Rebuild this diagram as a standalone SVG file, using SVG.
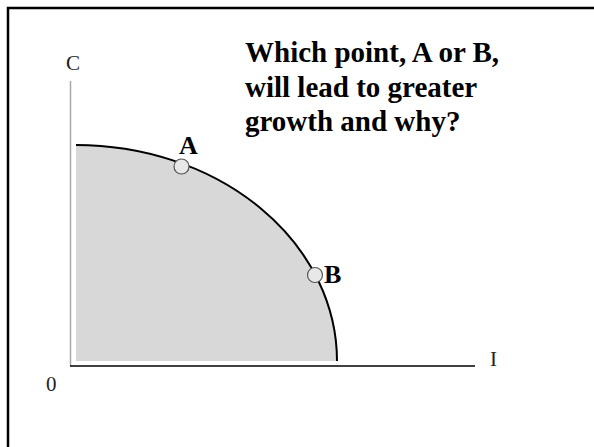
<svg xmlns="http://www.w3.org/2000/svg" width="594" height="447" viewBox="0 0 594 447">
  <style>
    .lbl { font-family: "Liberation Serif", "Times New Roman", serif; fill: #000; }
    .axislbl { font-size: 21px; fill: #222; }
    .pt { font-size: 26px; font-weight: bold; }
    .q { font-size: 29px; font-weight: bold; }
    .dot { fill: #e8e8e8; stroke: #555; stroke-width: 1.2; }
  </style>
  <rect x="0" y="0" width="594" height="447" fill="#fff"/>
  <g id="frame">
    <rect x="8" y="8" width="600" height="460" fill="none" stroke="#000" stroke-width="2.5"/>
  </g>
  <g id="region">
    <path d="M76,145 A261,216 0 0 1 337,361 L76,361 Z" fill="#d8d8d8"/>
  </g>
  <g id="connectors">
    <line x1="70.5" y1="81" x2="70.5" y2="366" stroke="#a8a8a8" stroke-width="1.5"/>
    <line x1="70" y1="366" x2="475" y2="366" stroke="#000" stroke-width="1.6"/>
    <path d="M76,145 A261,216 0 0 1 337,361" fill="none" stroke="#000" stroke-width="2"/>
  </g>
  <g id="axis-labels">
    <text class="lbl axislbl" x="66" y="70">C</text>
    <text class="lbl axislbl" x="490" y="366">I</text>
    <text class="lbl axislbl" x="46" y="391">0</text>
  </g>
  <g id="pointA">
    <circle class="dot" cx="181.5" cy="166.5" r="7.5"/>
    <text class="lbl pt" x="179" y="154">A</text>
  </g>
  <g id="pointB">
    <circle class="dot" cx="315" cy="275" r="7.5"/>
    <text class="lbl pt" x="324" y="283">B</text>
  </g>
  <g id="question">
    <text class="lbl q" x="245" y="62">Which point, A or B,</text>
    <text class="lbl q" x="245" y="96.5">will lead to greater</text>
    <text class="lbl q" x="245" y="131">growth and why?</text>
  </g>
</svg>
